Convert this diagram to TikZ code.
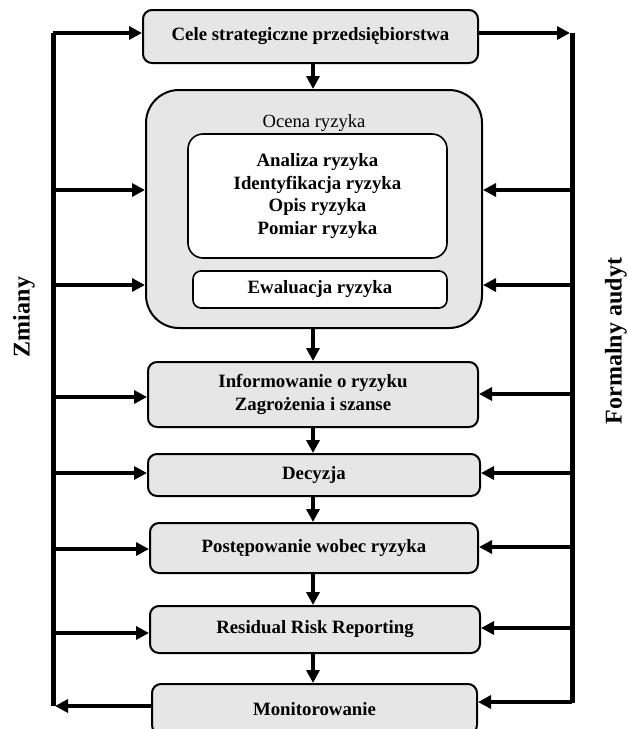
\documentclass[tikz,border=0pt]{standalone}
\usepackage{fontspec}
\setmainfont{Liberation Serif}
\usetikzlibrary{arrows.meta}
\definecolor{boxgray}{HTML}{E6E6E6}
\begin{document}
\begin{tikzpicture}[x=1pt,y=-1pt,
  txt/.style={font=\fontsize{18.8}{22.6}\selectfont\bfseries},
  stagebox/.style={draw, line width=2pt, rounded corners=9pt, fill=boxgray,
    inner sep=0pt, align=center, txt},
  innerbox/.style={draw, line width=1.6pt, fill=white, inner sep=0pt, align=center, txt},
  flow/.style={line width=4pt, -{Triangle[length=13pt,width=13pt]}},
  bus/.style={line width=5pt},
  sidelabel/.style={rotate=90, font=\fontsize{24}{28}\selectfont\bfseries}]
\useasboundingbox (0,0) rectangle (628,729);

% stages of the process
\node[stagebox, minimum width=335pt, minimum height=53pt] (cele) at (310.5,36.5)
  {Cele strategiczne przedsiębiorstwa};
\node[stagebox, rounded corners=33pt, minimum width=336pt, minimum height=238pt] (ocena) at (314,209) {};
\node[font=\fontsize{18.6}{22}\selectfont] (ocenalbl) at (314,123) {Ocena ryzyka};
\node[innerbox, rounded corners=15pt, minimum width=259pt, minimum height=124pt] (analiza) at (317.5,196)
  {Analiza ryzyka\\Identyfikacja ryzyka\\Opis ryzyka\\Pomiar ryzyka};
\node[innerbox, rounded corners=8pt, minimum width=254pt, minimum height=37pt] (ewal) at (320,289.5)
  {Ewaluacja ryzyka};
\node[stagebox, minimum width=330pt, minimum height=65pt] (info) at (313,394.5)
  {Informowanie o ryzyku\\Zagrożenia i szanse};
\node[stagebox, minimum width=332pt, minimum height=42pt] (dec) at (314,475) {Decyzja};
\node[stagebox, minimum width=328pt, minimum height=50pt] (post) at (314,548) {Postępowanie wobec ryzyka};
\node[stagebox, minimum width=330pt, minimum height=47pt] (res) at (315,629.5) {Residual Risk Reporting};
\node[stagebox, minimum width=325pt, minimum height=50pt] (mon) at (314.5,709) {Monitorowanie};

% main downward flow
\coordinate (spine) at (313,0);
\draw[flow] (cele.south -| spine) -- (ocena.north -| spine);
\draw[flow] (ocena.south -| spine) -- (info.north -| spine);
\draw[flow] (info.south -| spine) -- (dec.north -| spine);
\draw[flow] (dec.south -| spine) -- (post.north -| spine);
\draw[flow] (post.south -| spine) -- (res.north -| spine);
\draw[flow] (res.south -| spine) -- (mon.north -| spine);

% left feedback bus
\coordinate (Ltop) at (53,33);
\coordinate (Lbot) at (53,706);
\draw[bus] (Ltop) -- (Lbot);
\foreach \yy/\target in {33/cele, 190/ocena, 285/ocena, 397/info, 473/dec, 549/post, 633/res}
  \draw[flow] (53,\yy) -- (\target.west |- 0,\yy);
\draw[flow] (mon.west |- Lbot) -- ([xshift=2pt]Lbot);

% right audit bus
\coordinate (Rtop) at (572,33);
\coordinate (Rbot) at (572,703);
\draw[bus] (Rtop) -- (Rbot);
\draw[flow] (cele.east |- Rtop) -- ([xshift=-2pt]Rtop);
\foreach \yy/\target in {190/ocena, 285/ocena, 394/info, 473/dec, 547/post, 628/res, 702/mon}
  \draw[flow] (572,\yy) -- (\target.east |- 0,\yy);

% side labels
\node[sidelabel] (zmiany) at (24,317) {Zmiany};
\node[sidelabel] (audyt) at (616,341) {Formalny audyt};
\end{tikzpicture}
\end{document}
